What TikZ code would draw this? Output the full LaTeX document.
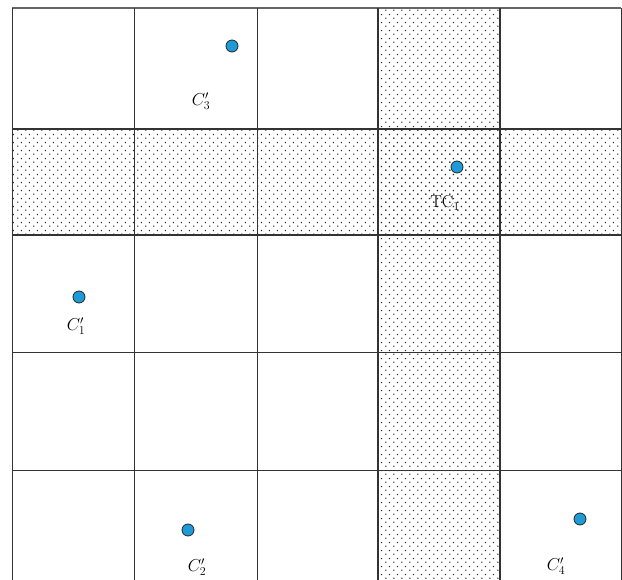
\documentclass[tikz,border=0pt]{standalone}
\usetikzlibrary{patterns.meta}
\tikzdeclarepattern{
  name=mydots,
  type=uncolored,
  bottom left={(0pt,0pt)},
  top right={(8pt,8pt)},
  tile size={(8pt,8pt)},
  code={
    \pgfpathrectangle{\pgfqpoint{1.4pt}{1.4pt}}{\pgfqpoint{1.3pt}{1.3pt}}
    \pgfpathrectangle{\pgfqpoint{5.4pt}{5.4pt}}{\pgfqpoint{1.3pt}{1.3pt}}
    \pgfusepath{fill}
  }
}
\definecolor{ptblue}{HTML}{1E9BD7}
\tikzset{
  shade/.style={pattern=mydots, pattern color=black!85},
  thin grid/.style={draw=black!80, line width=0.9pt},
  thick grid/.style={draw=black!80, line width=1.6pt},
  band grid/.style={draw=black!80, line width=2pt},
  pt/.style={circle, draw=black!85, line width=0.8pt, fill=ptblue, minimum size=12pt, inner sep=0pt},
  lbl/.style={font=\fontsize{18}{21}\selectfont, inner sep=0pt}
}
\begin{document}
\begin{tikzpicture}[x=1pt,y=-1pt]
\useasboundingbox (0,0) rectangle (622,580);
% shaded column and row
\fill[shade] (378,8) rectangle (500,580);
\fill[shade] (12,129) rectangle (621,235);
% grid
\draw[draw=black!60, line width=1.6pt] (12,8) -- (621,8);
\draw[thin grid] (12,8) -- (12,580);
\draw[thin grid] (134,8) -- (134,580);
\draw[thin grid] (257,8) -- (257,580);
\draw[thick grid] (378,8) -- (378,580);
\draw[thick grid] (500,8) -- (500,580);
\draw[thin grid] (621,8) -- (621,580);
\draw[band grid] (12,129) -- (621,129);
\draw[band grid] (12,235) -- (621,235);
\draw[thin grid] (12,352) -- (621,352);
\draw[thin grid] (12,470) -- (621,470);
% points
\node[pt] (c3) at (232,46) {};
\node[pt] (tc1) at (457,167) {};
\node[pt] (c1) at (79,297) {};
\node[pt] (c2) at (188,530) {};
\node[pt] (c4) at (580,519) {};
% labels
\node[lbl] (l3) at (201,101) {$C_3'$};
\node[lbl] (ltc) at (445,203) {$\mathrm{TC}_1$};
\node[lbl] (l1) at (76,326) {$C_1'$};
\node[lbl] (l2) at (197,567) {$C_2'$};
\node[lbl] (l4) at (556,566) {$C_4'$};
\end{tikzpicture}
\end{document}
